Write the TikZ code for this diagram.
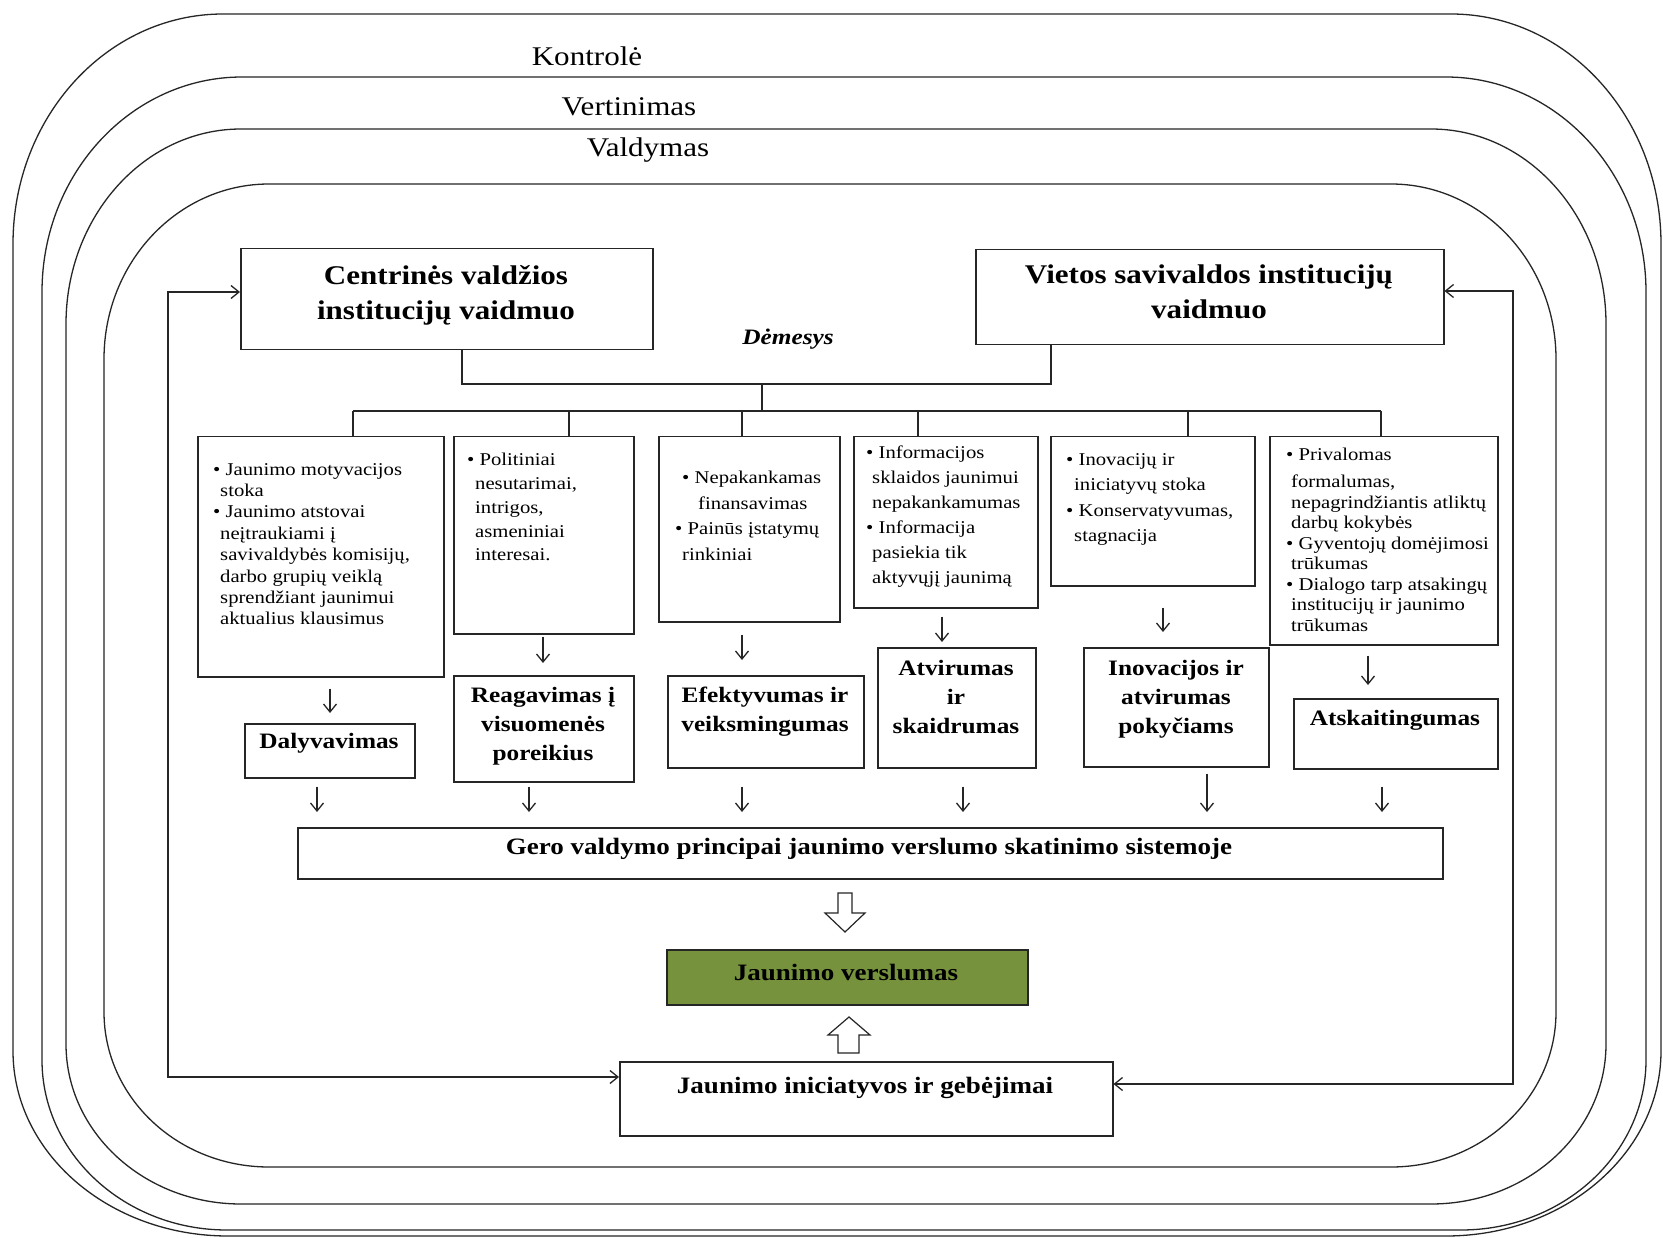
\documentclass[tikz,border=0pt]{standalone}
\usepackage{fontspec}
\setmainfont{Liberation Serif}[FakeStretch=1.15]
\usetikzlibrary{arrows.meta}
\definecolor{olivegr}{HTML}{76923C}
\newcommand{\fsz}[2]{\fontsize{#1}{#2}\selectfont}
% #1 L, #2 T, #3 R, #4 B, #5 rx top, #6 ry top, #7 rx bottom, #8 ry bottom
\newcommand{\myring}[8]{%
 \draw[ringline] ({#1+#5},#2) -- ({#3-#5},#2)
   .. controls ({#3-0.448*#5},#2) and (#3,{#2+0.448*#6}) .. (#3,{#2+#6})
   -- (#3,{#4-#8})
   .. controls (#3,{#4-0.448*#8}) and ({#3-0.448*#7},#4) .. ({#3-#7},#4)
   -- ({#1+#7},#4)
   .. controls ({#1+0.448*#7},#4) and (#1,{#4-0.448*#8}) .. (#1,{#4-#8})
   -- (#1,{#2+#6})
   .. controls (#1,{#2+0.448*#6}) and ({#1+0.448*#5},#2) .. ({#1+#5},#2) -- cycle;}
\begin{document}
\begin{tikzpicture}[x=1pt,y=-1pt,
  ringline/.style={line width=1.3pt, draw=black!85},
  box/.style={draw=black!85, line width=1.5pt, inner sep=0pt, anchor=north west},
  conn/.style={line width=1.3pt, draw=black!85},
  arr/.style={conn, -{Straight Barb[length=8pt,width=13pt]}},
  darr/.style={conn, {Straight Barb[length=8pt,width=13pt]}-{Straight Barb[length=8pt,width=13pt]}},
  lbl/.style={inner sep=0pt, anchor=base, font=\fsz{27}{32}},
  hd/.style={inner sep=0pt, anchor=north, align=center, font=\bfseries\fsz{27}{35}},
  pr/.style={inner sep=0pt, anchor=north, align=center, font=\bfseries\fsz{22}{29}},
  bl/.style={inner sep=0pt, anchor=north west, align=left},
  big/.style={inner sep=0pt, anchor=base, font=\bfseries\fsz{23.5}{28}},
  blockarr/.style={draw=black!85, line width=1.2pt, fill=white},
]
\fill[white] (0,0) rectangle (1663,1238);
\useasboundingbox (0,0) rectangle (1663,1238);

% nested rounded frames
\myring{13}{14}{1661}{1236}{210}{230}{215}{185}
\myring{42}{77}{1646}{1230}{200}{215}{185}{170}
\myring{66}{129}{1606}{1204}{175}{195}{175}{160}
\myring{104}{184}{1556}{1167}{165}{175}{165}{155}

\node[lbl] (kon) at (587,66) {Kontrolė};
\node[lbl] (vrt) at (629,116) {Vertinimas};
\node[lbl] (vld) at (648,157) {Valdymas};

% top boxes
\node[box, minimum width=412pt, minimum height=101pt] (cen) at (240,248) {};
\node[box, minimum width=468pt, minimum height=95pt] (vie) at (975,249) {};
\node[hd] (cenT) at (446,265) {Centrinės valdžios\\institucijų vaidmuo};
\node[hd] (vieT) at (1209,265) {Vietos savivaldos institucijų\\vaidmuo};
\node[inner sep=0pt, anchor=base, font=\bfseries\itshape\fsz{22}{26}] (dem) at (788,345) {Dėmesys};

% problem boxes
\node[box, minimum width=246pt, minimum height=240pt] (p1) at (197,436) {};
\node[box, minimum width=180pt, minimum height=197pt] (p2) at (453,436) {};
\node[box, minimum width=181pt, minimum height=185pt] (p3) at (658,436) {};
\node[box, minimum width=184pt, minimum height=171pt] (p4) at (853,436) {};
\node[box, minimum width=204pt, minimum height=149pt] (p5) at (1050,436) {};
\node[box, minimum width=228pt, minimum height=208pt] (p6) at (1269,436) {};

\node[bl, font=\fsz{18}{21.4}] (p1T) at (213,463) {• Jaunimo motyvacijos\\
\hspace*{7pt}stoka\\
• Jaunimo atstovai\\
\hspace*{7pt}neįtraukiami į\\
\hspace*{7pt}savivaldybės komisijų,\\
\hspace*{7pt}darbo grupių veiklą\\
\hspace*{7pt}sprendžiant jaunimui\\
\hspace*{7pt}aktualius klausimus};
\node[bl, font=\fsz{18}{23.8}] (p2T) at (467,453) {• Politiniai\\
\hspace*{8pt}nesutarimai,\\
\hspace*{8pt}intrigos,\\
\hspace*{8pt}asmeniniai\\
\hspace*{8pt}interesai.};
\node[bl, font=\fsz{18}{25.5}] (p3T) at (675,471) {\hspace*{7pt}• Nepakankamas\\
\hspace*{23pt}finansavimas\\
• Painūs įstatymų\\
\hspace*{7pt}rinkiniai};
\node[bl, font=\fsz{18}{25}] (p4T) at (866,446) {• Informacijos\\
\hspace*{6pt}sklaidos jaunimui\\
\hspace*{6pt}nepakankamumas\\
• Informacija\\
\hspace*{6pt}pasiekia tik\\
\hspace*{6pt}aktyvųjį jaunimą};
\node[bl, font=\fsz{18}{25.5}] (p5T) at (1066,453) {• Inovacijų ir\\
\hspace*{8pt}iniciatyvų stoka\\
• Konservatyvumas,\\
\hspace*{8pt}stagnacija};
\node[bl, font=\fsz{18}{20.5}] (p6T) at (1286,448) {• Privalomas\\[6.5pt]
\hspace*{5pt}formalumas,\\
\hspace*{5pt}nepagrindžiantis atliktų\\
\hspace*{5pt}darbų kokybės\\
• Gyventojų domėjimosi\\
\hspace*{5pt}trūkumas\\
• Dialogo tarp atsakingų\\
\hspace*{5pt}institucijų ir jaunimo\\
\hspace*{5pt}trūkumas};

% principle boxes
\node[box, minimum width=170pt, minimum height=54pt] (dal) at (244,723) {};
\node[box, minimum width=180pt, minimum height=106pt] (rea) at (453,675) {};
\node[box, minimum width=196pt, minimum height=92pt] (efe) at (667,675) {};
\node[box, minimum width=158pt, minimum height=120pt] (atv) at (877,647) {};
\node[box, minimum width=185pt, minimum height=119pt] (ino) at (1083,647) {};
\node[box, minimum width=204pt, minimum height=70pt] (ats) at (1293,698) {};
\node[pr] (dalT) at (329,733) {Dalyvavimas};
\node[pr] (reaT) at (543,687) {Reagavimas į\\visuomenės\\poreikius};
\node[pr] (efeT) at (765,687) {Efektyvumas ir\\veiksmingumas};
\node[pr] (atvT) at (956,660) {Atvirumas\\ir\\skaidrumas};
\node[pr] (inoT) at (1176,660) {Inovacijos ir\\atvirumas\\pokyčiams};
\node[pr] (atsT) at (1395,710) {Atskaitingumas};

% bottom boxes
\node[box, minimum width=1145pt, minimum height=51pt] (gero) at (297,827) {};
\node[box, fill=olivegr, minimum width=361pt, minimum height=55pt] (jv) at (666,949) {};
\node[box, minimum width=493pt, minimum height=74pt] (ini) at (619,1061) {};
\node[big] (geroT) at (869,854) {Gero valdymo principai jaunimo verslumo skatinimo sistemoje};
\node[big] (jvT) at (846,980) {Jaunimo verslumas};
\node[big] (iniT) at (865,1093) {Jaunimo iniciatyvos ir gebėjimai};

% tree connector
\coordinate (j1) at (462,384);
\coordinate (j2) at (1051,384);
\coordinate (jm) at (762,384);
\coordinate (jb) at (762,411);
\coordinate (bL) at (353,411);
\coordinate (bR) at (1381,411);
\coordinate (d2) at (569,411);
\coordinate (d3) at (742,411);
\coordinate (d4) at (918,411);
\coordinate (d5) at (1188,411);
\draw[conn] (cen.south -| j1) -- (j1) -- (j2) -- (vie.south -| j2);
\draw[conn] (jm) -- (jb);
\draw[conn] (bL) -- (bR);
\draw[conn] (bL) -- (p1.north -| bL);
\draw[conn] (d2) -- (p2.north -| d2);
\draw[conn] (d3) -- (p3.north -| d3);
\draw[conn] (d4) -- (p4.north -| d4);
\draw[conn] (d5) -- (p5.north -| d5);
\draw[conn] (bR) -- (p6.north -| bR);

% problem -> principle arrows
\coordinate (a1) at (330,0);
\coordinate (a2) at (543,0);
\coordinate (a3) at (742,0);
\coordinate (a4) at (942,0);
\coordinate (a5) at (1163,0);
\coordinate (a6) at (1368,0);
\draw[arr, shorten <=11pt, shorten >=10pt] (p1.south -| a1) -- (dal.north -| a1);
\draw[arr, shorten <=2pt, shorten >=12pt] (p2.south -| a2) -- (rea.north -| a2);
\draw[arr, shorten <=12pt, shorten >=15pt] (p3.south -| a3) -- (efe.north -| a3);
\draw[arr, shorten <=8pt, shorten >=5pt] (p4.south -| a4) -- (atv.north -| a4);
\draw[arr, shorten <=21pt, shorten >=15pt] (p5.south -| a5) -- (ino.north -| a5);
\draw[arr, shorten <=10pt, shorten >=13pt] (p6.south -| a6) -- (ats.north -| a6);

% principle -> gero arrows
\coordinate (g1) at (317,0);
\coordinate (g2) at (529,0);
\coordinate (g3) at (742,0);
\coordinate (g4) at (963,0);
\coordinate (g5) at (1207,0);
\coordinate (g6) at (1382,0);
\draw[arr, shorten <=8pt, shorten >=15pt] (dal.south -| g1) -- (gero.north -| g1);
\draw[arr, shorten <=4pt, shorten >=15pt] (rea.south -| g2) -- (gero.north -| g2);
\draw[arr, shorten <=18pt, shorten >=15pt] (efe.south -| g3) -- (gero.north -| g3);
\draw[arr, shorten <=18pt, shorten >=15pt] (atv.south -| g4) -- (gero.north -| g4);
\draw[arr, shorten <=6pt, shorten >=15pt] (ino.south -| g5) -- (gero.north -| g5);
\draw[arr, shorten <=17pt, shorten >=15pt] (ats.south -| g6) -- (gero.north -| g6);

% block arrows
\draw[blockarr] (838,893) -- (852,893) -- (852,913) -- (865,913) -- (845,932)
  -- (825,913) -- (838,913) -- cycle;
\draw[blockarr] (838,1053) -- (859,1053) -- (859,1035) -- (870,1035) -- (849,1017)
  -- (828,1035) -- (838,1035) -- cycle;

% feedback loops
\coordinate (fL1) at (168,292);
\coordinate (fL2) at (168,1077);
\coordinate (fR1) at (1513,291);
\coordinate (fR2) at (1513,1084);
\draw[darr] (cen.west |- fL1) -- (fL1) -- (fL2) -- (ini.west |- fL2);
\draw[darr] (vie.east |- fR1) -- (fR1) -- (fR2) -- (ini.east |- fR2);
\end{tikzpicture}
\end{document}
